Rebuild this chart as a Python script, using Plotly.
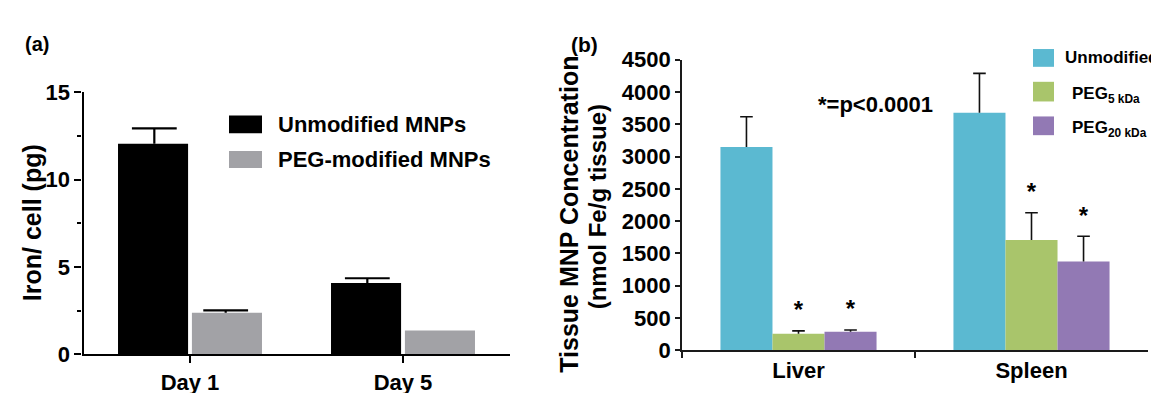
import plotly.graph_objects as go

# ---------------- Panel (a) data ----------------
days = ["Day 1", "Day 5"]
a_names = ["Unmodified MNPs", "PEG-modified MNPs"]
a_values = [[12.05, 4.08], [2.37, 1.36]]
a_errors = [[0.88, 0.27], [0.14, None]]
a_colors = ["#000000", "#A2A2A6"]
a_yticks = [0, 5, 10, 15]

# ---------------- Panel (b) data ----------------
tissues = ["Liver", "Spleen"]
b_names = ["Unmodified", "PEG<sub>5 kDa</sub>", "PEG<sub>20 kDa</sub>"]
b_values = [[3150, 3680], [257, 1710], [286, 1375]]
b_errors = [[467, 610], [43, 421], [29, 392]]
b_stars = [None, ["*", "*"], ["*", "*"]]
b_colors = ["#5BB9D1", "#A9C56B", "#9279B4"]
b_yticks = [0, 500, 1000, 1500, 2000, 2500, 3000, 3500, 4000, 4500]
b_note = "*=p<0.0001"

FONT = "Liberation Sans, Arial, sans-serif"
W, H = 1159, 393


def px(x):
    return x / W


def py(y):
    return 1 - y / H


def bold(size):
    return dict(family=FONT, size=size, color="black", weight="bold")


fig = go.Figure()

# Panel (a) bars + error bars
a_offsets = [-0.338, 0.009]
for i, (name, vals, errs, col) in enumerate(zip(a_names, a_values, a_errors, a_colors)):
    fig.add_trace(go.Bar(
        x=days, y=vals, name=name, marker=dict(color=col, line=dict(width=0)),
        width=0.329, offset=a_offsets[i], offsetgroup=f"a{i}",
        xaxis="x", yaxis="y", showlegend=False))
    tops = [v + e if e is not None else None for v, e in zip(vals, errs)]
    fig.add_trace(go.Scatter(
        x=days, y=tops, mode="markers", orientation="v", offsetgroup=f"a{i}",
        marker=dict(symbol="line-ew", size=32, color="black",
                    line=dict(width=2.2, color="black")),
        error_y=dict(type="data", array=[0 if e is not None else None for e in errs],
                     arrayminus=errs, symmetric=False, width=0, thickness=2.2,
                     color="black"),
        xaxis="x", yaxis="y", showlegend=False, hoverinfo="skip"))

# Panel (b) bars + error bars + significance stars
for i, (name, vals, errs, col, stars) in enumerate(zip(b_names, b_values, b_errors, b_colors, b_stars)):
    fig.add_trace(go.Bar(
        x=tissues, y=vals, name=name, marker=dict(color=col, line=dict(width=0)),
        offsetgroup=f"b{i}", xaxis="x2", yaxis="y2", showlegend=False))
    tops = [v + e for v, e in zip(vals, errs)]
    if stars:
        extra = dict(mode="markers+text", text=stars, textposition="top center",
                     textfont=bold(24))
    else:
        extra = dict(mode="markers")
    fig.add_trace(go.Scatter(
        x=tissues, y=tops, orientation="v", offsetgroup=f"b{i}",
        marker=dict(symbol="line-ew", size=9, color="black",
                    line=dict(width=1.6, color="#111111")),
        error_y=dict(type="data", array=[0, 0], arrayminus=errs, symmetric=False,
                     width=0, thickness=1.6, color="#111111"),
        xaxis="x2", yaxis="y2", showlegend=False, hoverinfo="skip", **extra))

annotations = []
shapes = []


def label(text, x, y, size, angle=0, xanchor="center"):
    annotations.append(dict(text=text, x=px(x), y=py(y), xref="paper", yref="paper",
                            xanchor=xanchor, yanchor="middle", textangle=angle,
                            showarrow=False, font=bold(size)))


# Panel labels
label("(a)", 29, 26, 20)
label("(b)", 576, 26, 21)

# Axis titles
label("Iron/ cell (pg)", 24, 217, 25, angle=-90)
label("Tissue MNP Concentration", 561, 208, 25, angle=-90)
label("(nmol Fe/g tissue)", 589, 200, 24, angle=-90)

# Note in panel (b)
label(b_note, 867, 90, 22)

# Legend (a)
a_leg_y = [(102, 121), (140, 158)]
for (y0, y1), name, col in zip(a_leg_y, a_names, a_colors):
    shapes.append(dict(type="rect", xref="paper", yref="paper", x0=px(221), x1=px(254),
                       y0=py(y1), y1=py(y0), fillcolor=col, line=dict(width=0)))
    label(name, 268, (y0 + y1) / 2, 22, xanchor="left")

# Legend (b)
b_leg_y = [(31, 50), (66, 87), (103, 123)]
b_leg_tx = [1055, 1062, 1062]
b_leg_ty = [40, 80, 116]
for (y0, y1), tx, ty, name, col in zip(b_leg_y, b_leg_tx, b_leg_ty, b_names, b_colors):
    shapes.append(dict(type="rect", xref="paper", yref="paper", x0=px(1025), x1=px(1046),
                       y0=py(y1), y1=py(y0), fillcolor=col, line=dict(width=0)))
    label(name, tx, ty, 17, xanchor="left")

tickfont = bold(22)

fig.update_layout(
    width=W, height=H,
    margin=dict(l=0, r=0, t=0, b=0),
    paper_bgcolor="white", plot_bgcolor="white",
    barmode="group", bargap=0.33, bargroupgap=0,
    scattermode="group", scattergap=0.33,
    annotations=annotations, shapes=shapes,
    showlegend=False,
    xaxis=dict(domain=[px(75.5), px(501.5)], range=[-0.5, 1.5], type="category",
               showline=True, linecolor="black", linewidth=2.2,
               ticks="outside", ticklen=7, tickwidth=2.2, tickcolor="black",
               tickfont=tickfont, showgrid=False, zeroline=False, anchor="y"),
    yaxis=dict(domain=[py(357), py(77)], range=[0, 15], tickvals=a_yticks,
               showline=True, linecolor="black", linewidth=2.2,
               ticks="outside", ticklen=7, tickwidth=2.2, tickcolor="black",
               minor=dict(ticks="outside", ticklen=4, tickwidth=2, tickcolor="black", dtick=2.5, tick0=0),
               tickfont=tickfont, showgrid=False, zeroline=False, anchor="x"),
    xaxis2=dict(domain=[px(674), px(1140)], range=[-0.5, 1.5], type="category",
                showline=True, linecolor="#1a1a1a", linewidth=1.6,
                ticks="outside", ticklen=6, tickwidth=1.6, tickcolor="#1a1a1a", tickson="boundaries",
                tickfont=tickfont, showgrid=False, zeroline=False, anchor="y2"),
    yaxis2=dict(domain=[py(352.7), py(42.5)], range=[0, 4500], tickvals=b_yticks,
                showline=True, linecolor="#1a1a1a", linewidth=1.6,
                ticks="outside", ticklen=5, tickwidth=1.6, tickcolor="#1a1a1a",
                tickfont=tickfont, showgrid=False, zeroline=False, anchor="x2"),
)

fig.write_html("out.html")
